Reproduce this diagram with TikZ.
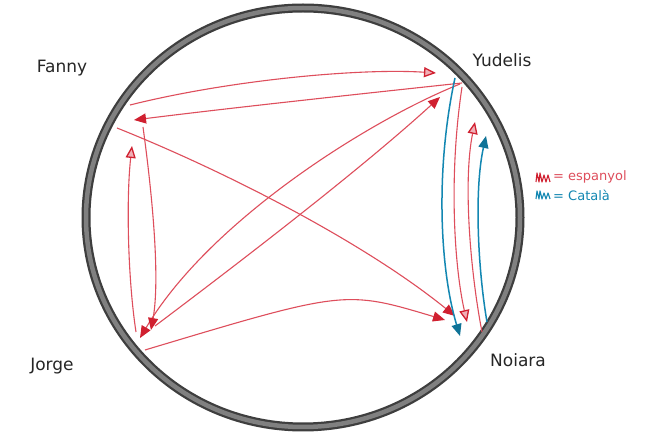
\documentclass[tikz,border=0pt]{standalone}
\usepackage{fontspec}
\setmainfont{DejaVu Sans}
\usetikzlibrary{arrows.meta}
\definecolor{mred}{RGB}{222,78,92}
\definecolor{mredd}{RGB}{208,32,48}
\definecolor{mblue}{RGB}{18,135,178}
\definecolor{rimdark}{RGB}{62,62,62}
\definecolor{rimlight}{RGB}{128,128,128}
\begin{document}
\begin{tikzpicture}[x=1pt,y=-1pt,
  namelabel/.style={font=\fontsize{17}{17}\selectfont, text=black!85, inner sep=0pt},
  leglabel/.style={font=\fontsize{13}{13}\selectfont, anchor=west, inner sep=0pt},
  redfill/.style={mred, line width=1.1pt, -{Triangle[length=12pt,width=10pt,color=mredd,fill=mredd]}},
  redopen/.style={mred, line width=1.1pt, -{Triangle[length=12pt,width=10pt,color=mredd,fill=mred!45,line width=1.3pt]}},
  bluefill/.style={mblue, line width=1.5pt, -{Triangle[length=12pt,width=10pt,color=mblue!85!black,fill=mblue!85!black]}}
]
\useasboundingbox (0,0) rectangle (654,435);
\fill[white] (0,0) rectangle (654,435);

% circle rim
\draw[rimdark, line width=9pt] (303,217.5) ellipse [x radius=217, y radius=209.5];
\draw[rimlight, line width=4.5pt] (303,217.5) ellipse [x radius=217, y radius=209.5];

% names
\node[namelabel] (fanny) at (62,68) {Fanny};
\node[namelabel] (yudelis) at (502,60) {Yudelis};
\node[namelabel] (jorge) at (52,366) {Jorge};
\node[namelabel] (noiara) at (518,360) {Noiara};

% arrow end points
\coordinate (fyS) at (130,105);  \coordinate (fyT) at (436,73);
\coordinate (yfS) at (462,83);   \coordinate (yfT) at (134,120);
\coordinate (fnS) at (117,128);  \coordinate (fnT) at (455,316);
\coordinate (jnS) at (145,350);  \coordinate (jnT) at (445,320);
\coordinate (yjS) at (460,84);   \coordinate (yjT) at (140,338);
\coordinate (jyS) at (155,326);  \coordinate (jyT) at (440,97);
\coordinate (fjS) at (143,127);  \coordinate (fjT) at (151,330);
\coordinate (jfS) at (136,332);  \coordinate (jfT) at (132,146);
\coordinate (ynbS) at (455,78);  \coordinate (ynbT) at (460,336);
\coordinate (ynrS) at (462,87);  \coordinate (ynrT) at (467,322);
\coordinate (nyrS) at (482,332); \coordinate (nyrT) at (475,122);
\coordinate (nybS) at (487,322); \coordinate (nybT) at (486,136);

% red arrows
\draw[redopen] (fyS) .. controls (230,80) and (360,68) .. (fyT);
\draw[redfill] (yfS) .. controls (350,95) and (230,108) .. (yfT);
\draw[redfill] (fnS) .. controls (227,172) and (365,243) .. (fnT);
\draw[redfill] (jnS) .. controls (345,290) .. (jnT);
\draw[redfill] (yjS) .. controls (370,120) and (210,220) .. (yjT);
\draw[redfill] (jyS) .. controls (240,262) and (360,170) .. (jyT);
\draw[redfill] (fjS) .. controls (153,200) and (160,280) .. (fjT);
\draw[redopen] (jfS) .. controls (128,280) and (126,200) .. (jfT);
\draw[redopen] (ynrS) .. controls (448,180) and (455,270) .. (ynrT);
\draw[redopen] (nyrS) .. controls (470,270) and (463,180) .. (nyrT);

% blue arrows
\draw[bluefill] (ynbS) .. controls (435,170) and (440,270) .. (ynbT);
\draw[bluefill] (nybS) .. controls (478,270) and (474,190) .. (nybT);

% legend
\draw[mredd, line width=1.1pt, line join=round]
  (536,182) -- (537,173) -- (539,182) -- (540,173) -- (542,182) -- (544,175) -- (546,182) -- (548,175) -- (550,182);
\node[leglabel, text=mred] (legred) at (553,177) {= espanyol};
\draw[mblue, line width=1.1pt, line join=round]
  (536,199) -- (537,191) -- (539,199) -- (540,191) -- (542,199) -- (544,193) -- (546,199) -- (548,193) -- (550,199);
\node[leglabel, text=mblue] (legblue) at (553,195) {= Català};
\end{tikzpicture}
\end{document}
